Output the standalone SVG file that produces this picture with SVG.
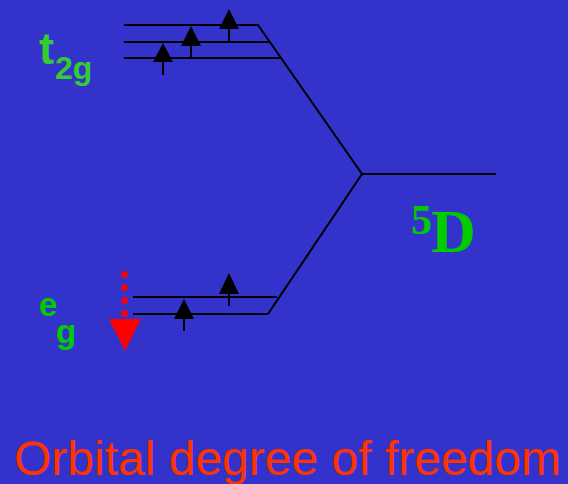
<svg xmlns="http://www.w3.org/2000/svg" width="568" height="484" viewBox="0 0 568 484">
  <defs>
    <style>
      .lvl { stroke: #000; stroke-width: 2; fill: none; }
      .stem { stroke: #000; stroke-width: 2; }
      .head { fill: #000; }
      .lab { font-family: "Liberation Sans", Arial, sans-serif; font-weight: bold; fill: #33CC33; }
      .lab2 { font-family: "Liberation Sans", Arial, sans-serif; font-weight: bold; fill: #00CC00; }
      .d5 { font-family: "Liberation Serif", "Times New Roman", serif; font-weight: bold; fill: #00CC00; }
      .cap { font-family: "Liberation Sans", Arial, sans-serif; fill: #FF3300; font-size: 48px; }
    </style>
  </defs>
  <rect x="0" y="0" width="568" height="484" fill="#3333CC"/>

  <g id="connectors">
    <polyline class="lvl" points="258,25 362,174 268,314"/>
    <line class="lvl" x1="362" y1="174" x2="496" y2="174"/>
  </g>

  <g id="t2g-levels">
    <line class="lvl" x1="124" y1="25" x2="259" y2="25"/>
    <line class="lvl" x1="124" y1="42" x2="269" y2="42"/>
    <line class="lvl" x1="124" y1="58" x2="280" y2="58"/>
    <line class="stem" x1="163" y1="60" x2="163" y2="75"/>
    <polygon class="head" points="163,43 153,62 173,62"/>
    <line class="stem" x1="191" y1="44" x2="191" y2="58"/>
    <polygon class="head" points="191,26 181,46 201,46"/>
    <line class="stem" x1="229" y1="27" x2="229" y2="42"/>
    <polygon class="head" points="229,9 219,29 239,29"/>
  </g>

  <g id="eg-levels">
    <line class="lvl" x1="133" y1="297" x2="277" y2="297"/>
    <line class="lvl" x1="133" y1="314" x2="268" y2="314"/>
    <line class="stem" x1="184" y1="317" x2="184" y2="331"/>
    <polygon class="head" points="184,299 174,319 194,319"/>
    <line class="stem" x1="229" y1="292" x2="229" y2="306"/>
    <polygon class="head" points="229,273 219,294 239,294"/>
  </g>

  <g id="red-arrow">
    <line x1="124.5" y1="271.5" x2="124.5" y2="318" stroke="#FF0000" stroke-width="6" stroke-dasharray="6,7"/>
    <polygon points="109,319 141,319 125,351" fill="#FF0000"/>
  </g>

  <g id="t2g-label">
    <text class="lab" x="39" y="64" font-size="45">t<tspan x="55" y="79" font-size="32">2g</tspan></text>
  </g>

  <g id="eg-label">
    <text class="lab2" x="39" y="316" font-size="33">e<tspan x="56" y="343">g</tspan></text>
  </g>

  <g id="d5-label">
    <text class="d5" x="411" y="234" font-size="42">5<tspan x="431" y="252" font-size="62">D</tspan></text>
  </g>

  <g id="caption">
    <text class="cap" x="14" y="475">Orbital degree of freedom</text>
  </g>
</svg>
